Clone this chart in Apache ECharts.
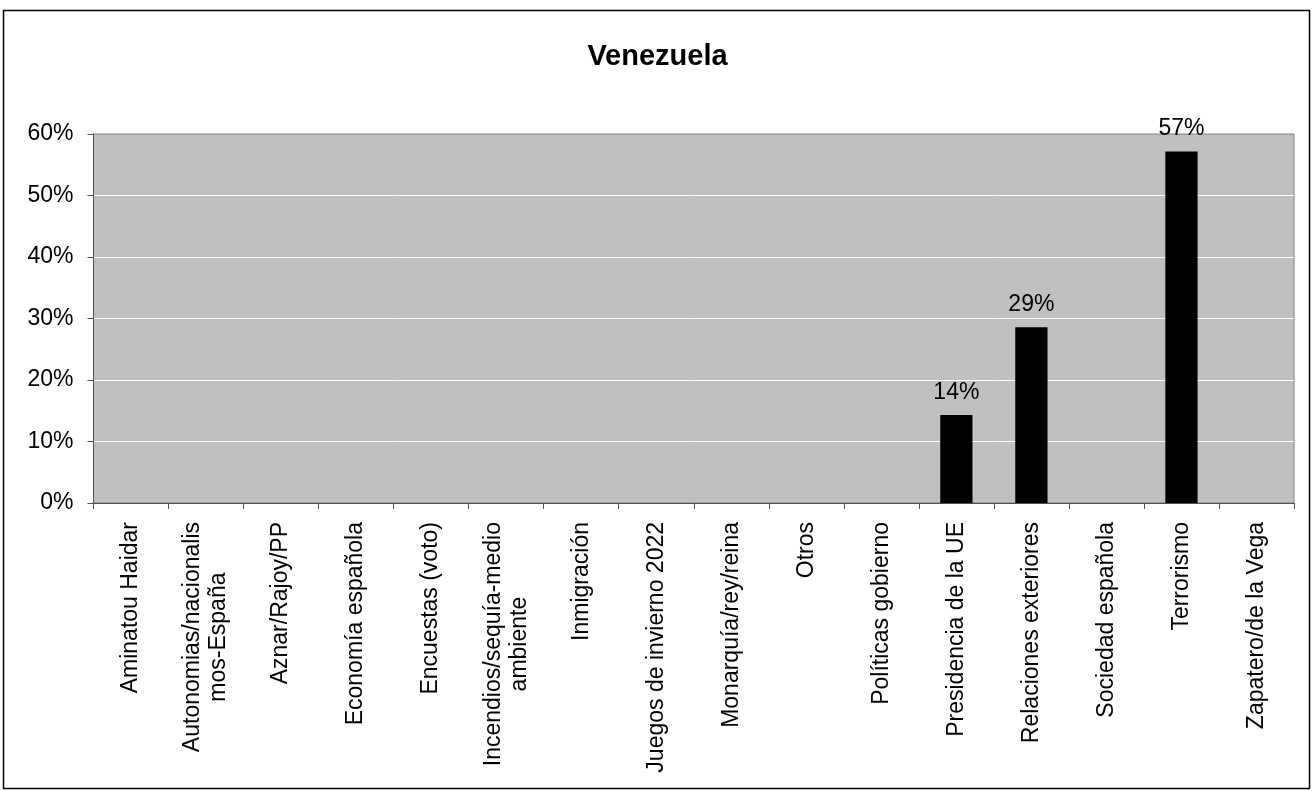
<!DOCTYPE html>
<html>
<head>
<meta charset="utf-8">
<script src="https://cdn.jsdelivr.net/npm/echarts@6/dist/echarts.min.js"></script>
<style>
html,body{margin:0;padding:0;background:#fff;}
#chart{width:1315px;height:791px;}
</style>
</head>
<body>
<div id="chart"></div>
<script>
var chartTitle = 'Venezuela';
var categories = [
  'Aminatou Haidar',
  'Autonomias/nacionalis\nmos-España',
  'Aznar/Rajoy/PP',
  'Economía española',
  'Encuestas (voto)',
  'Incendios/sequía-medio\nambiente',
  'Inmigración',
  'Juegos de invierno 2022',
  'Monarquía/rey/reina',
  'Otros',
  'Políticas gobierno',
  'Presidencia de la UE',
  'Relaciones exteriores',
  'Sociedad española',
  'Terrorismo',
  'Zapatero/de la Vega'
];
var values = [0, 0, 0, 0, 0, 0, 0, 0, 0, 0, 0, 14.29, 28.57, 0, 57.14, 0];
var yTicks = [0, 10, 20, 30, 40, 50, 60];

var FONT = "'Liberation Sans', Arial, sans-serif";
var chart = echarts.init(document.getElementById('chart'), null, {renderer: 'canvas'});
chart.setOption({
  animation: false,
  backgroundColor: '#ffffff',
  title: {
    text: chartTitle,
    left: 'center',
    top: 37,
    textStyle: {fontFamily: FONT, fontSize: 29, fontWeight: 'bold', color: '#000'}
  },
  graphic: [{
    type: 'rect',
    shape: {x: 3.5, y: 10.5, width: 1306, height: 778},
    style: {fill: 'none', stroke: '#000', lineWidth: 1.5},
    silent: true, z: 100
  }],
  grid: {
    left: 93.5, right: 21, top: 134, bottom: 288,
    show: true, backgroundColor: '#C0C0C0', borderColor: '#808080', borderWidth: 1,
    containLabel: false
  },
  xAxis: {
    type: 'category',
    data: categories,
    boundaryGap: true,
    axisLine: {lineStyle: {color: '#505050', width: 1}},
    axisTick: {show: true, length: 6, alignWithLabel: false, lineStyle: {color: '#505050'}},
    axisLabel: {
      interval: 0, rotate: 90, margin: 19,
      fontFamily: FONT, fontSize: 23, color: '#000',
      formatter: function (v) {
        return v.split('\n').map(function (l) { return '{c|' + l + '}'; }).join('\n');
      },
      rich: {c: {align: 'center', fontFamily: FONT, fontSize: 23, color: '#000', lineHeight: 26}}
    }
  },
  yAxis: {
    type: 'value',
    min: 0, max: 60, interval: 10,
    axisLine: {show: true, lineStyle: {color: '#505050', width: 1}},
    axisTick: {show: true, length: 6, lineStyle: {color: '#505050'}},
    axisLabel: {
      margin: 20, fontFamily: FONT, fontSize: 23, color: '#000',
      formatter: function (v) { return yTicks.indexOf(v) >= 0 ? v + '%' : ''; }
    },
    splitLine: {show: true, showMinLine: false, showMaxLine: false, lineStyle: {color: '#ffffff', width: 1}}
  },
  series: [{
    type: 'bar',
    data: values,
    barWidth: '43%',
    itemStyle: {color: '#000000'},
    label: {
      show: true, position: 'top', distance: 11,
      fontFamily: FONT, fontSize: 23, color: '#000',
      formatter: function (p) { return p.value > 0 ? Math.round(p.value) + '%' : ''; }
    }
  }]
});
</script>
</body>
</html>
